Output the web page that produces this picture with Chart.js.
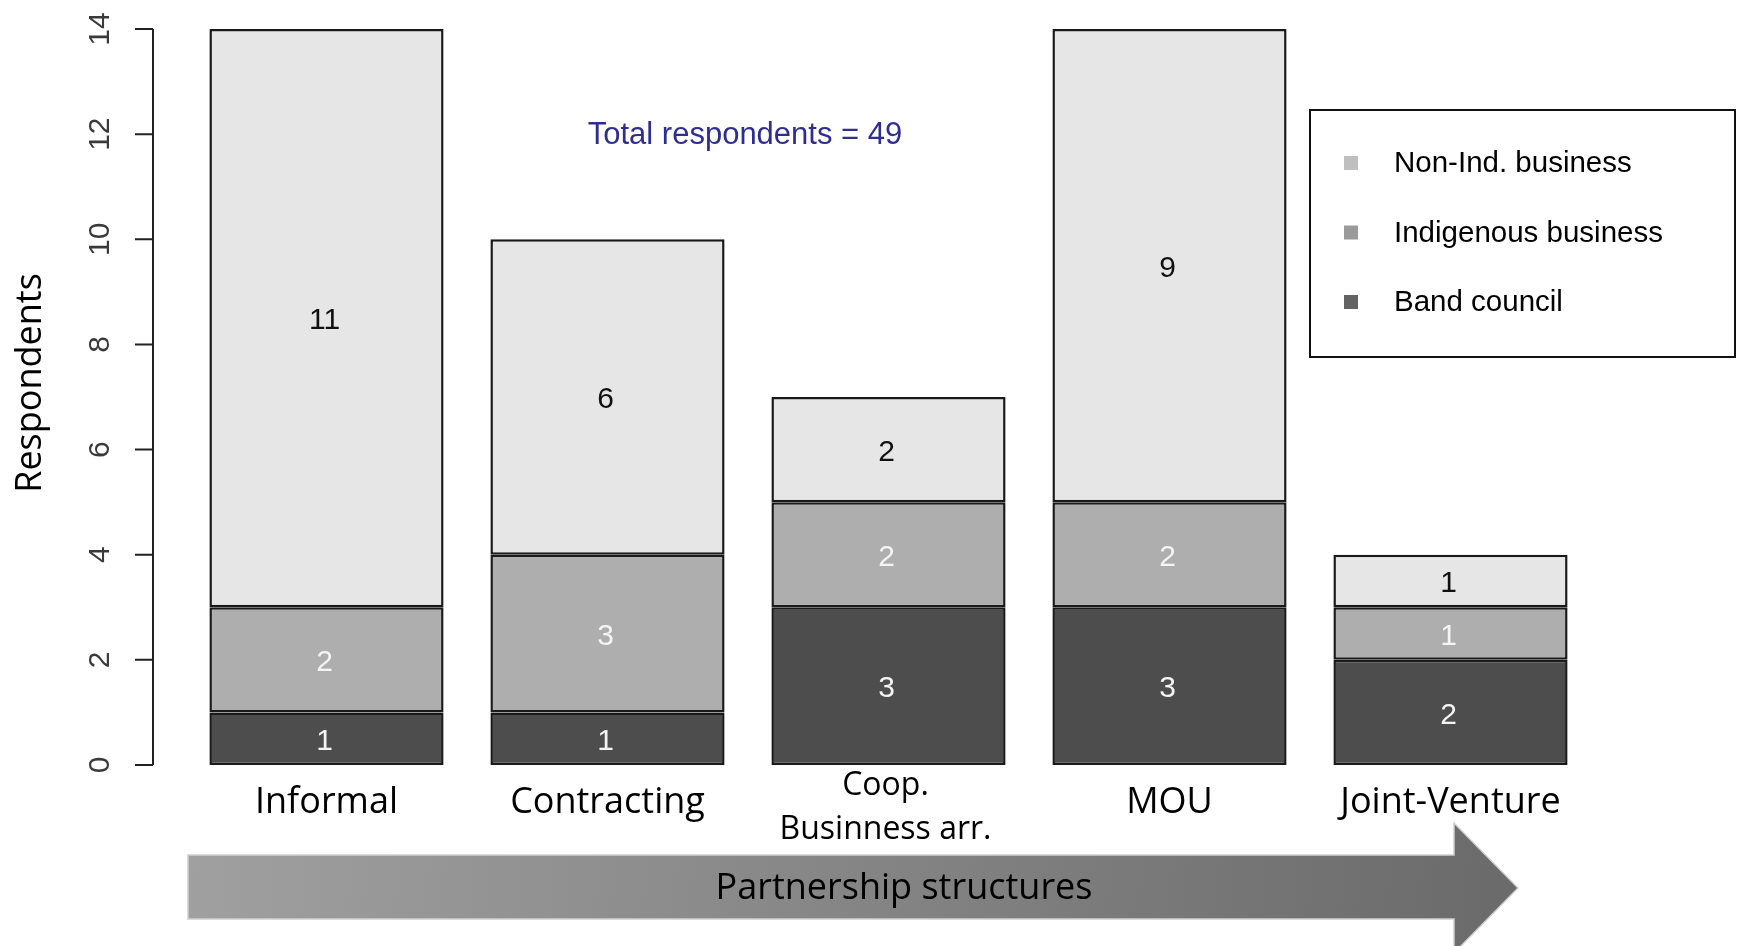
<!DOCTYPE html>
<html>
<head>
<meta charset="utf-8">
<script src="https://cdn.jsdelivr.net/npm/chart.js@4/dist/chart.umd.min.js"></script>
<style>
  body { margin: 0; background: #fff; }
  canvas { display: block; }
</style>
</head>
<body>
<canvas id="chart" width="1738" height="946"></canvas>
<script>
// partnership types, left to right along the arrow
const categories = ['Informal', 'Contracting', ['Coop.', 'Businness arr.'], 'MOU', 'Joint-Venture'];

// respondents per stack segment (bottom to top)
const bandCouncil = [1, 1, 3, 3, 2];
const indigenousBusiness = [2, 3, 2, 2, 1];
const nonIndBusiness = [11, 6, 2, 9, 1];

const yTicks = [0, 2, 4, 6, 8, 10, 12, 14];
const totalText = 'Total respondents = 49';
const legendItems = [
    { label: 'Non-Ind. business', color: '#bfbfbf' },
    { label: 'Indigenous business', color: '#9a9a9a' },
    { label: 'Band council', color: '#636363' }
];

const segColors = ['#4d4d4d', '#aeaeae', '#e6e6e6'];
const segText = ['#f4f4f4', '#f4f4f4', '#111111'];

const sansR = '"Liberation Sans", Arial, sans-serif';
const sansC = '"Open Sans", sans-serif';

const decorations = {
    id: 'decorations',
    afterDatasetsDraw(chart) {
        const ctx = chart.ctx;
        ctx.save();
        ctx.font = '30px ' + sansR;
        ctx.textAlign = 'center';
        ctx.textBaseline = 'middle';
        chart.data.datasets.forEach((ds, di) => {
            const meta = chart.getDatasetMeta(di);
            meta.data.forEach((bar, i) => {
                const v = ds.data[i];
                if (!v) return;
                ctx.fillStyle = segText[di];
                ctx.fillText(String(v), bar.x - 2, (bar.y + bar.base) / 2 + 3);
            });
        });
        ctx.restore();
    },
    afterDraw(chart) {
        const ctx = chart.ctx;
        const y = chart.scales.y;
        const x = chart.scales.x;
        ctx.save();

        // R style y axis
        const axX = 153;
        ctx.strokeStyle = '#222';
        ctx.lineWidth = 2;
        ctx.beginPath();
        ctx.moveTo(axX, y.getPixelForValue(0));
        ctx.lineTo(axX, y.getPixelForValue(14));
        yTicks.forEach(t => {
            const py = y.getPixelForValue(t);
            ctx.moveTo(axX, py);
            ctx.lineTo(axX - 18, py);
        });
        ctx.stroke();

        ctx.fillStyle = '#3a3a3a';
        ctx.font = '30px ' + sansR;
        ctx.textAlign = 'center';
        ctx.textBaseline = 'middle';
        yTicks.forEach(t => {
            const py = y.getPixelForValue(t);
            ctx.save();
            ctx.translate(101, py);
            ctx.rotate(-Math.PI / 2);
            ctx.fillText(String(t), 0, 0);
            ctx.restore();
        });

        // y title
        ctx.fillStyle = '#000';
        ctx.font = '36px ' + sansC;
        ctx.save();
        ctx.translate(31, 383);
        ctx.rotate(-Math.PI / 2);
        ctx.fillText('Respondents', 0, 0);
        ctx.restore();

        // category labels
        categories.forEach((c, i) => {
            const px = x.getPixelForValue(i);
            if (Array.isArray(c)) {
                ctx.font = '32px ' + sansC;
                ctx.fillText(c[0], px - 3, 786);
                ctx.fillText(c[1], px - 3, 830);
            } else {
                ctx.font = '36px ' + sansC;
                ctx.fillText(c, px, 803);
            }
        });

        // total respondents note
        ctx.fillStyle = '#2d2d92';
        ctx.font = '31px ' + sansR;
        ctx.fillText(totalText, 745, 135);

        // legend
        ctx.fillStyle = '#fff';
        ctx.fillRect(1310, 110, 425, 247);
        ctx.strokeStyle = '#111';
        ctx.lineWidth = 2;
        ctx.strokeRect(1310, 110, 425, 247);
        ctx.font = '29.5px ' + sansR;
        ctx.textAlign = 'left';
        legendItems.forEach((it, i) => {
            const ly = 163 + i * 69.5;
            ctx.fillStyle = it.color;
            ctx.fillRect(1344, ly - 7, 14, 14);
            ctx.fillStyle = '#000';
            ctx.fillText(it.label, 1394, ly + 1);
        });

        // arrow
        const g = ctx.createLinearGradient(188, 830, 1518, 950);
        g.addColorStop(0, '#a0a0a0');
        g.addColorStop(1, '#6a6a6a');
        ctx.fillStyle = g;
        ctx.beginPath();
        ctx.moveTo(188, 855);
        ctx.lineTo(1454, 855);
        ctx.lineTo(1454, 823);
        ctx.lineTo(1518, 888);
        ctx.lineTo(1454, 953);
        ctx.lineTo(1454, 919);
        ctx.lineTo(188, 919);
        ctx.closePath();
        ctx.fill();
        ctx.strokeStyle = '#cfcfcf';
        ctx.lineWidth = 1.5;
        ctx.stroke();

        ctx.fillStyle = '#000';
        ctx.font = '36px ' + sansC;
        ctx.textAlign = 'center';
        ctx.fillText('Partnership structures', 904, 889);

        ctx.restore();
    }
};

new Chart(document.getElementById('chart'), {
    type: 'bar',
    data: {
        labels: categories,
        datasets: [
            { label: 'Band council', data: bandCouncil, backgroundColor: segColors[0] },
            { label: 'Indigenous business', data: indigenousBusiness, backgroundColor: segColors[1] },
            { label: 'Non-Ind. business', data: nonIndBusiness, backgroundColor: segColors[2] }
        ].map(d => Object.assign(d, {
            borderColor: '#1a1a1a',
            borderWidth: 2.5,
            borderSkipped: false,
            categoryPercentage: 1,
            barPercentage: 1 / 1.2
        }))
    },
    options: {
        responsive: false,
        animation: false,
        layout: { padding: { left: 186, right: 147, top: 29, bottom: 181 } },
        plugins: { legend: { display: false }, tooltip: { enabled: false } },
        scales: {
            x: { display: false, stacked: true },
            y: { display: false, stacked: true, min: 0, max: 14 }
        }
    },
    plugins: [decorations]
});
</script>
</body>
</html>
